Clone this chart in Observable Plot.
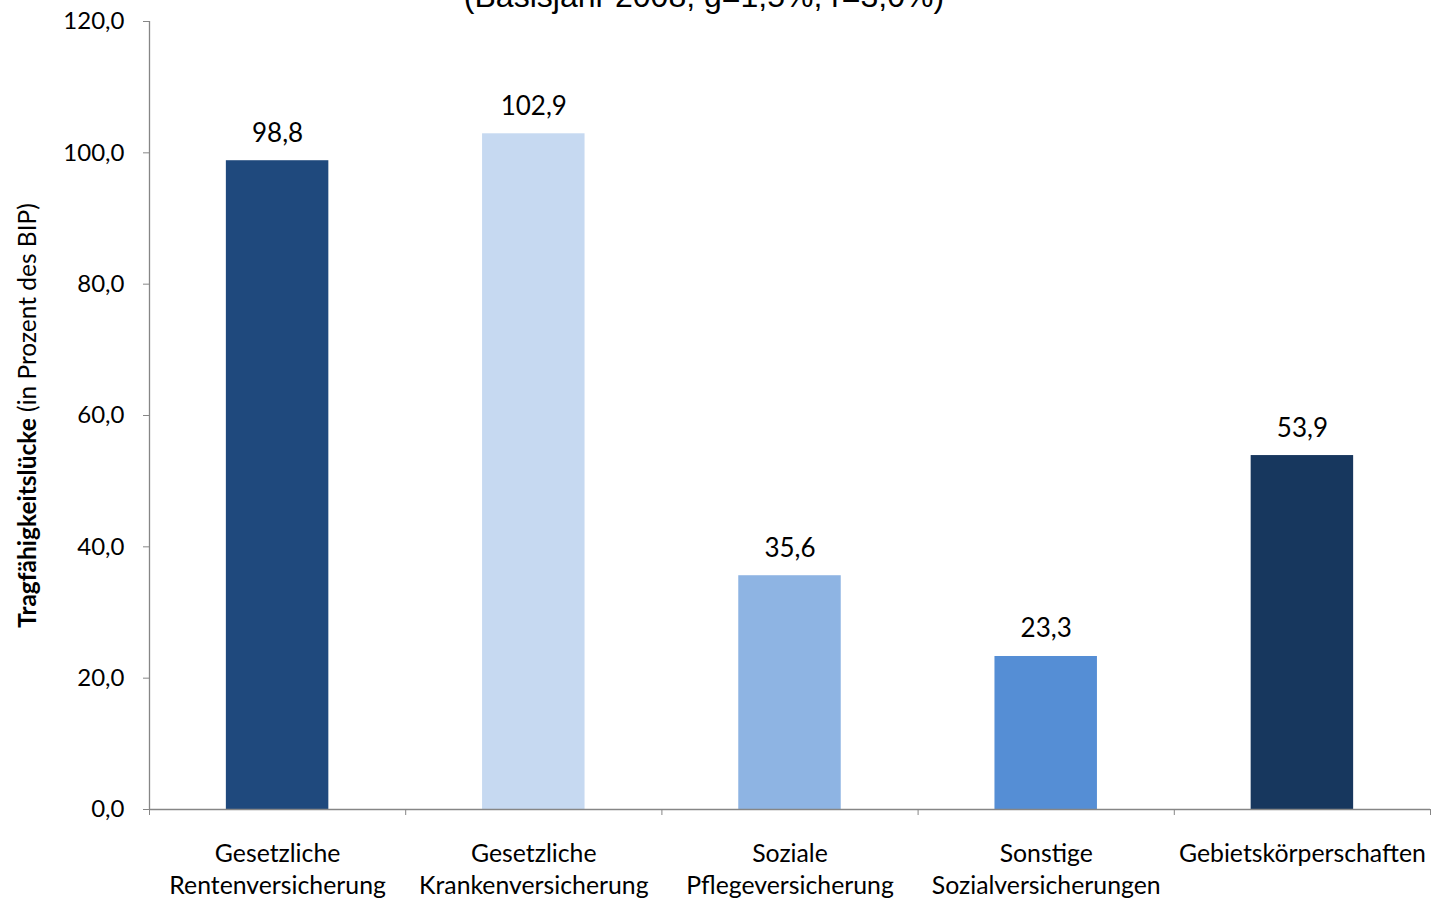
<!DOCTYPE html>
<html><head><meta charset="utf-8">
<script src="https://cdn.jsdelivr.net/npm/d3@7"></script>
<script src="https://cdn.jsdelivr.net/npm/@observablehq/plot@0.6"></script>
<style>
html,body{margin:0;padding:0;background:#fff;overflow:hidden}
#wrap{position:relative;width:1431px;height:898px}
#title{position:absolute;left:0;width:1408px;text-align:center;top:-20px;font-family:"Liberation Sans",Arial,sans-serif;font-size:32px;line-height:32px;white-space:nowrap;z-index:2}
#chart{position:absolute;left:0;top:0}
</style></head><body>
<div id="wrap"><div id="chart"></div><div id="title">(Basisjahr 2008; g=1,5%; r=3,0%)</div></div>
<script>
const categories = ["Gesetzliche\nRentenversicherung", "Gesetzliche\nKrankenversicherung", "Soziale\nPflegeversicherung", "Sonstige\nSozialversicherungen", "Gebietskörperschaften"];
const values = [98.8, 102.9, 35.6, 23.3, 53.9];
const colors = ["#1F497D", "#C6D9F1", "#8EB4E3", "#558ED5", "#17375E"];
const yTicks = [0, 20, 40, 60, 80, 100, 120];
const yLabelBold = "Tragfähigkeitslücke";
const yLabelRest = " (in Prozent des BIP)";

const data = categories.map((c, i) => ({i, cat: c, value: values[i]}));
const fmt = v => v.toFixed(1).replace(".", ",");
const xDomain = [-0.5, categories.length - 0.5];
const boundaries = d3.range(xDomain[0], xDomain[1] + 0.01, 1);
const half = 0.2;
const gray = "#868686";

const chart = Plot.plot({
  width: 1431,
  height: 898,
  marginLeft: 149,
  marginRight: 1,
  marginTop: 21,
  marginBottom: 89,
  style: {fontFamily: "Lato, sans-serif", fontSize: "24px", background: "#fff", color: "#000"},
  x: {type: "linear", domain: xDomain},
  y: {domain: [0, 120], label: null},
  color: {domain: categories, range: colors},
  marks: [
    Plot.rectY(data, {x1: d => d.i - half, x2: d => d.i + half, y: "value", fill: "cat"}),
    Plot.ruleY([0], {stroke: gray, strokeWidth: 1.3}),
    Plot.ruleX([xDomain[0]], {y1: 0, y2: 120, stroke: gray, strokeWidth: 1.3}),
    Plot.axisY({ticks: yTicks, tickFormat: fmt, tickSize: 6, tickPadding: 19, stroke: gray, fill: "#000", fontSize: 24, label: null}),
    Plot.axisX({ticks: boundaries, tickSize: 6, tickFormat: () => "", stroke: gray, label: null}),
    Plot.axisX({ticks: d3.range(categories.length), tickSize: 0, tickPadding: 30, tickFormat: i => categories[i], fontSize: 24.8, lineHeight: 1.29, fill: "#000", label: null}),
    Plot.text(data, {x: "i", y: "value", text: d => fmt(d.value), lineAnchor: "bottom", dy: -19, fontSize: 26, fill: "#000"}),
    Plot.text([yLabelBold + yLabelRest], {frameAnchor: "left", textAnchor: "middle", rotate: -90, dx: -121, fontSize: 24.5, fill: "#000", className: "ylab"})
  ]
});
document.getElementById("chart").appendChild(chart);
// split y label into bold + normal parts
const t = chart.querySelector(".ylab text");
if (t) {
  t.textContent = "";
  const a = document.createElementNS("http://www.w3.org/2000/svg", "tspan");
  a.setAttribute("font-weight", "bold");
  a.textContent = yLabelBold;
  const b = document.createElementNS("http://www.w3.org/2000/svg", "tspan");
  b.textContent = yLabelRest;
  t.appendChild(a); t.appendChild(b);
}
</script>
</body></html>
